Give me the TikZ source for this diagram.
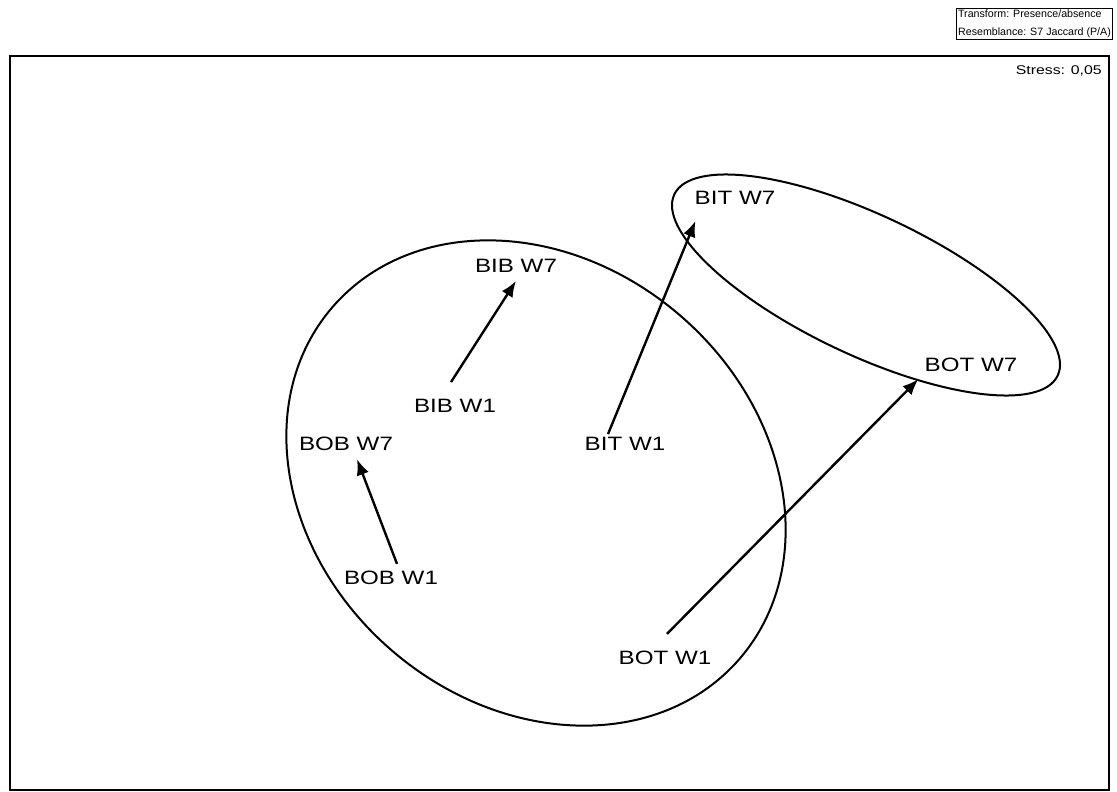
\documentclass[tikz,border=0pt]{standalone}
\usepackage{fontspec}
\setmainfont{Liberation Sans}
\newfontfamily\widefont[FakeStretch=1.25]{Liberation Sans}
\newfontfamily\hdrfont{Liberation Sans}
\usetikzlibrary{arrows.meta}
\begin{document}
\begin{tikzpicture}[x=0.75pt, y=-0.75pt,
  lbl/.style={inner sep=0pt, font=\widefont\fontsize{14.5}{17}\selectfont},
  arr/.style={-{Latex[length=12pt,width=9.5pt]}, line width=1.8pt}]
  \useasboundingbox (0,0) rectangle (1117,792);
  \fill[white] (0,0) rectangle (1117,792);

  % frame and header
  \draw[line width=1.1pt] (10,56) rectangle (1109,790);
  \node (hdr) [draw, line width=0.8pt, anchor=north east, inner sep=1.2pt, align=left,
    font=\hdrfont\fontsize{8}{13.5}\selectfont] at (1113,8)
    {Transform: Presence/absence\\Resemblance: S7 Jaccard (P/A)};
  \node (stress) [anchor=east, inner sep=0pt, font=\widefont\fontsize{9.5}{11}\selectfont] at (1102,71) {Stress: 0,05};

  % groups
  \draw[line width=1.5pt, rotate around={-40.8:(536,483)}] (536,483) ellipse [x radius=269, y radius=221];
  \draw[line width=1.5pt, rotate around={-25.3:(866,285)}] (866,285) ellipse [x radius=212, y radius=70];

  % samples
  \node (bitw7) [lbl] at (735,198) {BIT W7};
  \node (bibw7) [lbl] at (516,266) {BIB W7};
  \node (botw7) [lbl] at (971,365) {BOT W7};
  \node (bibw1) [lbl] at (455,406) {BIB W1};
  \node (bobw7) [lbl] at (346,444) {BOB W7};
  \node (bitw1) [lbl] at (625,444) {BIT W1};
  \node (bobw1) [lbl] at (391,578) {BOB W1};
  \node (botw1) [lbl] at (665,658) {BOT W1};

  \draw[arr] ([shift={(-4,-17)}]bibw1.north) -- ([shift={(0,8)}]bibw7.south);
  \draw[arr] ([shift={(6,-7)}]bobw1.north) -- ([shift={(11,8)}]bobw7.south);
  \draw[arr] ([shift={(-17,-3)}]bitw1.north) -- ([shift={(1,16)}]bitw7.south west);
  \draw[arr] ([shift={(2,-17)}]botw1.north) -- ([shift={(-6,7)}]botw7.south west);
\end{tikzpicture}
\end{document}
